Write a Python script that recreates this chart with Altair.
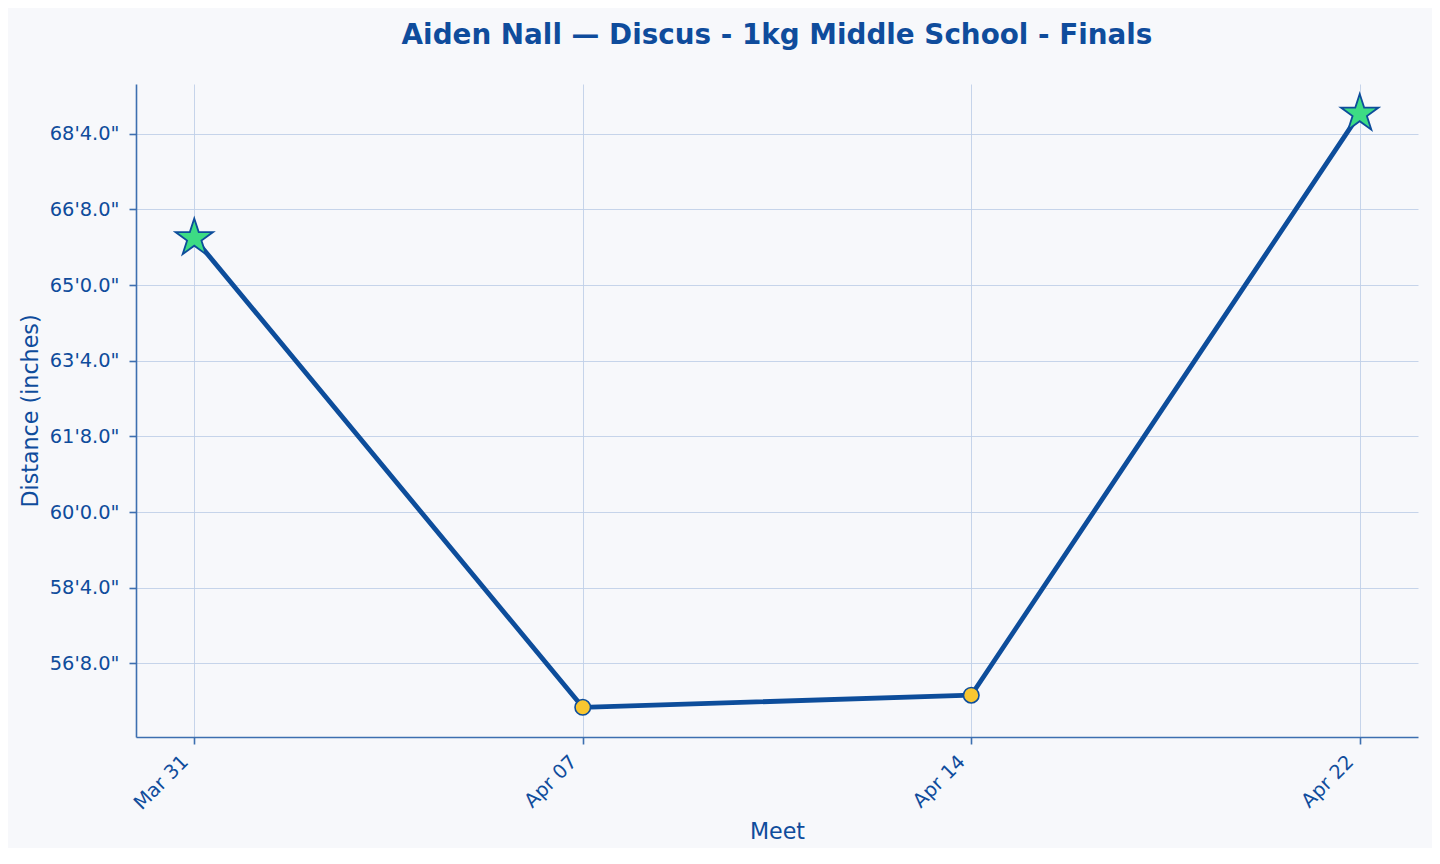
import math
import altair as alt
import pandas as pd

# ---- data ----
meets = ["Mar 31", "Apr 07", "Apr 14", "Apr 22"]
distances = [792.4, 668.4, 671.6, 825.3]          # inches
personal_best = [True, False, False, True]
y_ticks = [680, 700, 720, 740, 760, 780, 800, 820]

df = pd.DataFrame({"Meet": meets, "Distance": distances, "PB": personal_best})

lo, hi = min(distances), max(distances)
mg = (hi - lo) * 0.05
ydom = [lo - mg, hi + mg]

# 5-point star symbol path (unit coordinates)
pts = []
for k in range(10):
    a = math.pi * k / 5
    r = 1.0 if k % 2 == 0 else 0.381966
    pts.append((r * math.sin(a), -r * math.cos(a)))
star_path = "M" + " L".join(f"{x:.4f},{y:.4f}" for x, y in pts) + " Z"

TXT = "#0f4c9c"
LINE = "#0d4d9b"
SPINE = "#3d6fb0"
GRID = "#bfcfe8"
FONT = "DejaVu Sans"

x_enc = alt.X(
    "Meet:O",
    sort=meets,
    scale=alt.Scale(type="point", padding=0.15),
    axis=alt.Axis(
        title="Meet",
        labelAngle=-45,
        labelAlign="right",
        labelBaseline="top",
        labelPadding=8,
        labelOffset=-16,
        tickSize=7,
        titleX=641,
        titleY=101,
        titleBaseline="alphabetic",
        titleAlign="center",
    ),
)
y_enc = alt.Y(
    "Distance:Q",
    scale=alt.Scale(domain=ydom, nice=False, zero=False),
    axis=alt.Axis(
        title="Distance (inches)",
        values=y_ticks,
        labelExpr="floor(datum.value / 12) + \"'\" + format(datum.value % 12, '.1f') + '\"'",
        labelPadding=10,
        tickSize=7,
        titleX=-106,
        titleY=326.5,
        titleAngle=-90,
        titleBaseline="middle",
        titleAlign="center",
    ),
)

base = alt.Chart(df).encode(x=x_enc, y=y_enc)

line = base.mark_line(color=LINE, strokeWidth=4.8, strokeJoin="round", strokeCap="round")
circles = base.transform_filter("!datum.PB").mark_point(
    shape="circle", filled=True, fill="#f8c630", stroke=LINE, strokeWidth=1.6,
    size=240, opacity=1,
)
stars = base.transform_filter("datum.PB").mark_point(
    shape=star_path, filled=True, fill="#3ddc84", stroke=LINE, strokeWidth=1.8,
    size=1560, opacity=1,
)

chart = (
    alt.layer(line, circles, stars)
    .properties(
        width=1282,
        height=653,
        title=alt.TitleParams(
            "Aiden Nall — Discus - 1kg Middle School - Finals",
            fontSize=27.8,
            fontWeight="bold",
            color=TXT,
            font=FONT,
            baseline="alphabetic",
            offset=12,
            anchor="middle",
        ),
        autosize=alt.AutoSizeParams(type="none"),
        padding={"left": 128, "top": 76, "right": 14, "bottom": 111},
        background="#f7f8fb",
    )
    .configure_view(stroke=None)
    .configure_axis(
        grid=True,
        gridColor=GRID,
        gridWidth=0.9,
        domainColor=SPINE,
        domainWidth=1.6,
        tickColor=SPINE,
        tickWidth=1.6,
        labelColor=TXT,
        labelFont=FONT,
        labelFontSize=19.4,
        titleColor=TXT,
        titleFont=FONT,
        titleFontSize=22.2,
        titleFontWeight="normal",
    )
)

chart.save("out.html", embed_options={"renderer": "svg", "actions": False})
